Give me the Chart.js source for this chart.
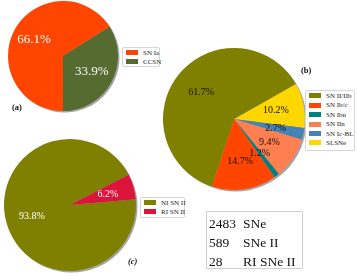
<!DOCTYPE html>
<html>
<head>
<meta charset="utf-8">
<script src="https://cdn.jsdelivr.net/npm/chart.js@4"></script>
<style>
  body { margin: 0; background: #fff; }
  #wrap { position: relative; width: 357px; height: 276px; overflow: hidden; font-family: "Liberation Serif", "DejaVu Serif", serif; }
  canvas { position: absolute; }
  .legend { position: absolute; border: 1px solid #d6d6d6; border-radius: 2px; background: #fff; font-size: 7px; color: #222; }
  .legend .row { position: absolute; left: 3px; height: 9px; white-space: nowrap; line-height: 9px; }
  .legend .patch { display: inline-block; width: 12px; height: 5px; vertical-align: middle; margin-right: 5px; margin-top: -1px; }
  .tag { position: absolute; font-weight: bold; font-size: 8.5px; color: #111; }
  #tbl { position: absolute; left: 206px; top: 211px; width: 95px; height: 56px; border: 1px solid #cfcfcf; font-size: 13.5px; color: #111; }
  #tbl div { position: absolute; left: 2px; height: 19px; line-height: 19px; white-space: nowrap; }
  #tbl span { position: absolute; left: 34px; }
</style>
</head>
<body>
<div id="wrap">
  <canvas id="pieA"></canvas>
  <canvas id="pieB"></canvas>
  <canvas id="pieC"></canvas>
  <div class="legend" id="legA" style="left:122px;top:47px;width:36px;height:18px;"></div>
  <div class="legend" id="legB" style="left:305px;top:90px;width:48px;height:59px;"></div>
  <div class="legend" id="legC" style="left:140px;top:197px;width:43px;height:19px;"></div>
  <div class="tag" style="left:12px;top:102px;">(a)</div>
  <div class="tag" style="left:301px;top:65px;">(b)</div>
  <div class="tag" style="left:128px;top:256px;font-style:italic;">(c)</div>
  <div id="tbl"></div>
</div>
<script>
// (a) type Ia vs core collapse
const labelsA = ["SN Ia", "CCSN"];
const valuesA = [66.1, 33.9];
const colorsA = ["#FF4500", "#556B2F"];

// (b) CCSN subtypes
const labelsB = ["SN II/IIb", "SN Ib/c", "SN Ibn", "SN IIn", "SN Ic-BL", "SLSNe"];
const valuesB = [61.7, 14.7, 1.2, 9.4, 2.7, 10.2];
const colorsB = ["#808000", "#FF4500", "#008080", "#FF7F50", "#4682B4", "#FFD700"];

// (c) rapidly interacting SN II
const labelsC = ["NI SN II", "RI SN II"];
const valuesC = [93.8, 6.2];
const colorsC = ["#808000", "#DC143C"];

// counts box
const countNums = ["2483", "589", "28"];
const countNames = ["SNe", "SNe II", "RI SNe II"];

// grey disc under the pie, like matplotlib shadow=True
const shadowPlugin = {
    id: "pieShadow",
    beforeDatasetsDraw(chart) {
        const arc = chart.getDatasetMeta(0).data[0];
        const ctx = chart.ctx;
        ctx.save();
        ctx.fillStyle = "rgba(90,90,90,0.55)";
        ctx.beginPath();
        ctx.arc(arc.x + 1.5, arc.y + 1.5, arc.outerRadius, 0, Math.PI * 2);
        ctx.fill();
        ctx.restore();
    }
};

// percentage text at 0.6 of the radius
const pctPlugin = {
    id: "pctLabels",
    afterDatasetsDraw(chart, args, opts) {
        const ctx = chart.ctx;
        const meta = chart.getDatasetMeta(0);
        const vals = chart.data.datasets[0].data;
        ctx.save();
        ctx.fillStyle = opts.color;
        ctx.font = opts.size + "px 'Liberation Serif', serif";
        ctx.textAlign = "center";
        ctx.textBaseline = "middle";
        meta.data.forEach((arc, i) => {
            const mid = (arc.startAngle + arc.endAngle) / 2;
            const x = arc.x + Math.cos(mid) * arc.outerRadius * 0.6;
            const y = arc.y + Math.sin(mid) * arc.outerRadius * 0.6;
            ctx.fillText(vals[i].toFixed(1) + "%", x, y);
        });
        ctx.restore();
    }
};

function makePie(id, left, top, radius, values, colors, rotation, textColor, textSize) {
    const cv = document.getElementById(id);
    cv.style.left = left + "px";
    cv.style.top = top + "px";
    cv.width = radius * 2 + 3;
    cv.height = radius * 2 + 3;
    new Chart(cv, {
        type: "pie",
        data: {
            datasets: [{
                data: values,
                backgroundColor: colors,
                borderWidth: 0,
                hoverOffset: 0
            }]
        },
        options: {
            responsive: false,
            animation: false,
            events: [],
            rotation: rotation,
            layout: { padding: { right: 3, bottom: 3 } },
            plugins: {
                legend: { display: false },
                tooltip: { enabled: false },
                pctLabels: { color: textColor, size: textSize }
            }
        },
        plugins: [shadowPlugin, pctPlugin]
    });
}

function makeLegend(id, labels, colors, firstY, step) {
    const box = document.getElementById(id);
    labels.forEach((lab, i) => {
        const row = document.createElement("div");
        row.className = "row";
        row.style.top = (firstY + i * step) + "px";
        row.innerHTML = '<span class="patch" style="background:' + colors[i] + '"></span>' + lab;
        box.appendChild(row);
    });
}

makePie("pieA", 8, 1, 55, valuesA, colorsA, 180, "#fff", 13);
// matplotlib goes counter-clockwise, so feed the slices reversed
makePie("pieB", 163, 48, 71, valuesB.slice().reverse(), colorsB.slice().reverse(), 60.5, "#111", 10);
makePie("pieC", 4, 139, 66, valuesC, colorsC, 85, "#fff", 10);

makeLegend("legA", labelsA, colorsA, 1, 9);
makeLegend("legB", labelsB, colorsB, 1, 9.4);
makeLegend("legC", labelsC, colorsC, 1, 8.5);

const tbl = document.getElementById("tbl");
countNums.forEach((n, i) => {
    const d = document.createElement("div");
    d.style.top = (2 + i * 19) + "px";
    d.innerHTML = n + "<span>" + countNames[i] + "</span>";
    tbl.appendChild(d);
});
</script>
</body>
</html>
